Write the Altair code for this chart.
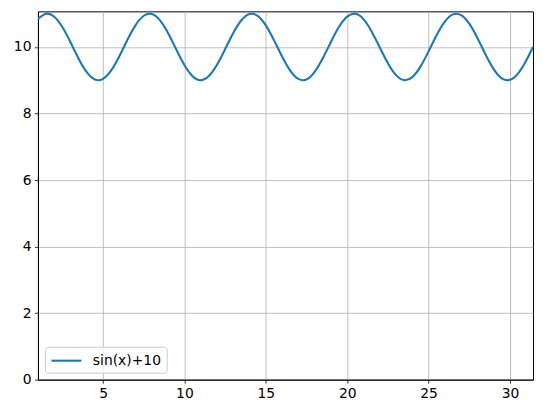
import altair as alt
import pandas as pd

x_vals = [1.0, 1.5, 2.0, 2.5, 3.0, 3.5, 4.0, 4.5, 5.0, 5.5, 6.0, 6.5, 7.0, 7.5, 8.0, 8.5,
          9.0, 9.5, 10.0, 10.5, 11.0, 11.5, 12.0, 12.5, 13.0, 13.5, 14.0, 14.5, 15.0, 15.5,
          16.0, 16.5, 17.0, 17.5, 18.0, 18.5, 19.0, 19.5, 20.0, 20.5, 21.0, 21.5, 22.0, 22.5,
          23.0, 23.5, 24.0, 24.5, 25.0, 25.5, 26.0, 26.5, 27.0, 27.5, 28.0, 28.5, 29.0, 29.5,
          30.0, 30.5, 31.0, 31.416]
y_vals = [10.841, 10.997, 10.909, 10.598, 10.141, 9.649, 9.243, 9.022, 9.041, 9.294,
          9.721, 10.215, 10.657, 10.938, 10.989, 10.798, 10.412, 9.925, 9.456, 9.120,
          9.000, 9.125, 9.463, 9.934, 10.420, 10.804, 10.991, 10.935, 10.650, 10.206,
          9.712, 9.288, 9.039, 9.022, 9.249, 9.658, 10.150, 10.606, 10.913, 10.997,
          10.837, 10.467, 9.991, 9.513, 9.154, 9.004, 9.094, 9.408, 9.868, 10.360,
          10.763, 10.980, 10.956, 10.699, 10.271, 9.776, 9.336, 9.058, 9.012, 9.207,
          9.596, 10.000]
series_name = ["sin(x)+10"]

df = pd.DataFrame({"x": x_vals, "y": y_vals, "series": series_name * len(x_vals)})

FONT = "DejaVu Sans"

line = alt.Chart(df).mark_line(strokeWidth=2.1, interpolate="natural", clip=True).encode(
    x=alt.X("x:Q",
            scale=alt.Scale(domain=[1, 31.416], nice=False, zero=False),
            axis=alt.Axis(values=[5, 10, 15, 20, 25, 30], title=None)),
    y=alt.Y("y:Q",
            scale=alt.Scale(domain=[0, 11.07], nice=False),
            axis=alt.Axis(values=[0, 2, 4, 6, 8, 10], title=None)),
    color=alt.Color("series:N",
                    scale=alt.Scale(domain=series_name, range=["#1f77b4"]),
                    legend=alt.Legend(title=None, orient="bottom-left", offset=7,
                                      symbolType="M-1,0H3", symbolSize=225,
                                      symbolStrokeWidth=2.1, labelOffset=25,
                                      labelFontSize=13.9, labelFont=FONT,
                                      labelColor="#000000",
                                      fillColor="rgba(255,255,255,0.8)",
                                      strokeColor="#cccccc", cornerRadius=3,
                                      padding=5)),
)

chart = line.properties(
    width=496, height=369,
    autosize=alt.AutoSizeParams(type="none"),
    padding={"left": 30, "top": 3, "right": 2, "bottom": 26},
).configure_view(
    stroke="#000000", strokeWidth=1
).configure_axis(
    grid=True, gridColor="#b0b0b0", gridWidth=0.8,
    domainColor="#000000", domainWidth=1,
    tickColor="#000000", tickSize=3.5, tickWidth=0.8,
    labelFont=FONT, labelFontSize=13.9, labelColor="#000000",
    labelPadding=3.5,
)

chart.save("out.html", embed_options={"renderer": "svg", "actions": False})
